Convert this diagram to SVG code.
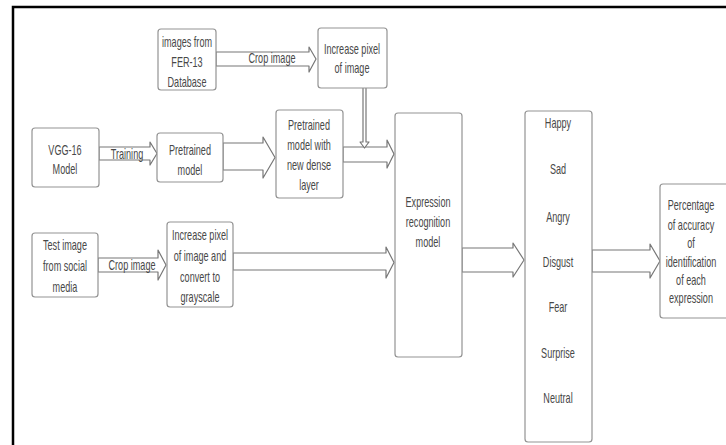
<svg xmlns="http://www.w3.org/2000/svg" width="726" height="445" viewBox="0 0 726 445">
<style>
.box{fill:#fff;stroke:#939393;stroke-width:1.2}
.arr{fill:#fff;stroke:#777;stroke-width:1.2;stroke-linejoin:round}
.t{font-family:"Liberation Sans",Arial,sans-serif;font-size:14px;fill:#484848;text-anchor:middle}
.frame{stroke:#000;stroke-width:2.5;fill:none}
</style>
<rect width="726" height="445" fill="#fff"/>
<path class="frame" d="M13,445 L13,7 L726,7"/>
<g id="connectors">
<path class="arr" d="M216,52 L309,52 L309,47 L316,59 L309,72 L309,66 L216,66 Z"/>
<path class="arr" d="M99,147 L150,147 L150,142 L157,153.5 L150,165 L150,160 L99,160 Z"/>
<path class="arr" d="M223,143 L263,143 L263,137 L275,157.5 L263,178 L263,170 L223,170 Z"/>
<path class="arr" d="M343,147 L387,147 L387,140 L394,154 L387,168 L387,162 L343,162 Z"/>
<path class="arr" d="M363,88 L363,142 L360,142 L364.5,148 L369,142 L366,142 L366,88"/>
<path class="arr" d="M98,258 L158,258 L158,250 L166,265 L158,280 L158,272 L98,272 Z"/>
<path class="arr" d="M233,253 L386,253 L386,247 L394,262.5 L386,278 L386,270 L233,270 Z"/>
<path class="arr" d="M462,248 L513,248 L513,243 L524,260 L513,277 L513,272 L462,272 Z"/>
<path class="arr" d="M592,250 L650,250 L650,244 L660,261 L650,278 L650,272 L592,272 Z"/>
<text class="t" transform="translate(272,0) scale(0.65 1)" y="63">Crop image</text>
<text class="t" transform="translate(127,0) scale(0.65 1)" y="159">Training</text>
<text class="t" transform="translate(132,0) scale(0.65 1)" y="270">Crop image</text>
</g>
<g id="fer">
<rect class="box" x="158" y="29" width="58" height="61" rx="3"/>
<text class="t" transform="translate(187,0) scale(0.65 1)"><tspan x="0" y="47">images from</tspan><tspan x="0" y="67">FER-13</tspan><tspan x="0" y="87">Database</tspan></text>
</g>
<g id="increase1">
<rect class="box" x="318" y="28" width="69" height="60" rx="3"/>
<text class="t" transform="translate(352,0) scale(0.65 1)"><tspan x="0" y="54">Increase pixel</tspan><tspan x="0" y="73">of image</tspan></text>
</g>
<g id="vgg">
<rect class="box" x="32" y="128" width="67" height="59" rx="3"/>
<text class="t" transform="translate(65,0) scale(0.65 1)"><tspan x="0" y="155">VGG-16</tspan><tspan x="0" y="174">Model</tspan></text>
</g>
<g id="pretrained">
<rect class="box" x="157" y="133" width="66" height="49" rx="3"/>
<text class="t" transform="translate(190,0) scale(0.65 1)"><tspan x="0" y="155">Pretrained</tspan><tspan x="0" y="175">model</tspan></text>
</g>
<g id="dense">
<rect class="box" x="276" y="110" width="67" height="88" rx="3"/>
<text class="t" transform="translate(309,0) scale(0.65 1)"><tspan x="0" y="130">Pretrained</tspan><tspan x="0" y="150">model with</tspan><tspan x="0" y="170">new dense</tspan><tspan x="0" y="190">layer</tspan></text>
</g>
<g id="test">
<rect class="box" x="32" y="233" width="66" height="64" rx="3"/>
<text class="t" transform="translate(65,0) scale(0.65 1)"><tspan x="0" y="250">Test image</tspan><tspan x="0" y="271">from social</tspan><tspan x="0" y="292">media</tspan></text>
</g>
<g id="increase2">
<rect class="box" x="167" y="222" width="66" height="85" rx="3"/>
<text class="t" transform="translate(200,0) scale(0.65 1)"><tspan x="0" y="240">Increase pixel</tspan><tspan x="0" y="261">of image and</tspan><tspan x="0" y="282">convert to</tspan><tspan x="0" y="302">grayscale</tspan></text>
</g>
<g id="model">
<rect class="box" x="395" y="113" width="67" height="244" rx="3"/>
<text class="t" transform="translate(428,0) scale(0.65 1)"><tspan x="0" y="207">Expression</tspan><tspan x="0" y="227">recognition</tspan><tspan x="0" y="247">model</tspan></text>
</g>
<g id="emotions">
<rect class="box" x="525" y="111" width="67" height="331" rx="3"/>
<text class="t" transform="translate(558,0) scale(0.65 1)"><tspan x="0" y="128">Happy</tspan><tspan x="0" y="174">Sad</tspan><tspan x="0" y="222">Angry</tspan><tspan x="0" y="267">Disgust</tspan><tspan x="0" y="312">Fear</tspan><tspan x="0" y="358">Surprise</tspan><tspan x="0" y="403">Neutral</tspan></text>
</g>
<g id="percentage">
<rect class="box" x="660" y="184" width="70" height="134" rx="3"/>
<text class="t" transform="translate(691,0) scale(0.65 1)"><tspan x="0" y="210">Percentage</tspan><tspan x="0" y="230">of  accuracy</tspan><tspan x="0" y="248">of</tspan><tspan x="0" y="267">identification</tspan><tspan x="0" y="285">of each</tspan><tspan x="0" y="303">expression</tspan></text>
</g>
</svg>
